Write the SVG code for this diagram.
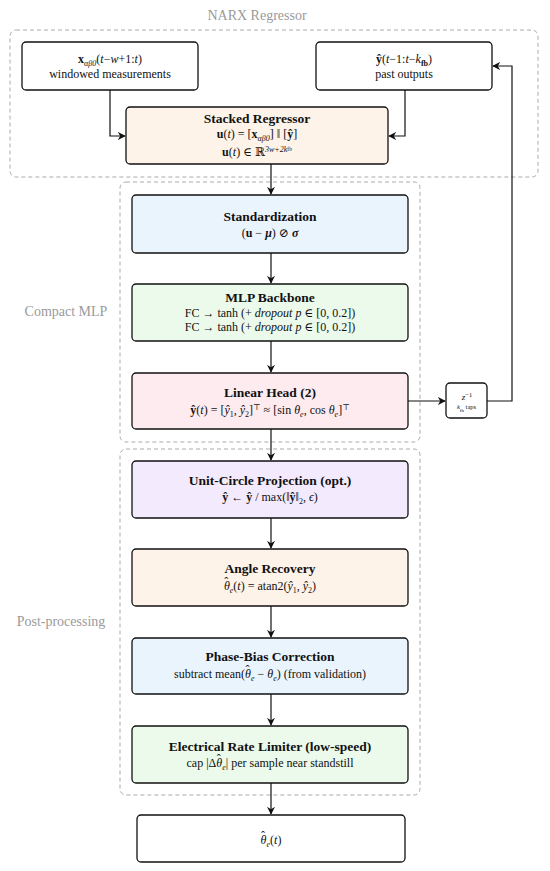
<svg xmlns="http://www.w3.org/2000/svg" width="550" height="871" viewBox="0 0 550 871">
<defs>
<marker id="ah" viewBox="0 0 10 10" refX="9" refY="5" markerWidth="8" markerHeight="8" markerUnits="userSpaceOnUse" orient="auto">
<path d="M0,0 L10,5 L0,10 L3,5 Z" fill="#111"/>
</marker>
<style>
text{font-family:"Liberation Serif","DejaVu Serif",serif;fill:#111;text-anchor:middle}
.t{font-size:13.5px;font-weight:bold}
.s{font-size:12px}
.g{font-size:14px;fill:#9a9a9a}
.grp{fill:none;stroke:#aaa;stroke-width:1;stroke-dasharray:4 3}
.n{stroke:#111;stroke-width:1.3}
.c{fill:none;stroke:#111;stroke-width:1.2}
.i{font-style:italic}
.b{font-weight:bold}
.sub{font-size:8px;baseline-shift:-2.5px}
.sup{font-size:8px;baseline-shift:super}
</style>
</defs>
<g id="groups">
<rect class="grp" x="10" y="30" width="528" height="147" rx="6"/>
<text class="g" x="257" y="20">NARX Regressor</text>
<rect class="grp" x="120" y="182" width="300" height="260" rx="6"/>
<text class="g" x="66" y="316">Compact MLP</text>
<rect class="grp" x="120" y="449" width="300" height="346" rx="6"/>
<text class="g" x="61" y="626">Post-processing</text>
</g>
<g id="connectors">
<path class="c" d="M110,90 V136 H125" marker-end="url(#ah)"/>
<path class="c" d="M405,90 V136 H389" marker-end="url(#ah)"/>
<path class="c" d="M271,164 V194" marker-end="url(#ah)"/>
<path class="c" d="M271,253 V283" marker-end="url(#ah)"/>
<path class="c" d="M271,341 V372" marker-end="url(#ah)"/>
<path class="c" d="M408,401 H445" marker-end="url(#ah)"/>
<path class="c" d="M487,401 H512 V66 H493" marker-end="url(#ah)"/>
<path class="c" d="M271,429 V460" marker-end="url(#ah)"/>
<path class="c" d="M271,518 V548" marker-end="url(#ah)"/>
<path class="c" d="M271,606 V637" marker-end="url(#ah)"/>
<path class="c" d="M271,694 V725" marker-end="url(#ah)"/>
<path class="c" d="M271,783 V814" marker-end="url(#ah)"/>
</g>
<g id="windowed">
<rect class="n" x="22" y="42" width="176" height="48" rx="4" fill="#fff"/>
<text class="s" x="110" y="63"><tspan class="b">x</tspan><tspan class="sub i">αβ0</tspan>(<tspan class="i">t</tspan>−<tspan class="i">w</tspan>+1:<tspan class="i">t</tspan>)</text>
<text class="s" x="110" y="78">windowed measurements</text>
</g>
<g id="past">
<rect class="n" x="316" y="42" width="176" height="48" rx="4" fill="#fff"/>
<text class="s" x="404" y="63"><tspan class="b">ŷ</tspan>(<tspan class="i">t</tspan>−1:<tspan class="i">t</tspan>−<tspan class="i">k</tspan><tspan class="sub b">fb</tspan>)</text>
<text class="s" x="404" y="78">past outputs</text>
</g>
<g id="stacked">
<rect class="n" x="126" y="107" width="262" height="57" rx="4" fill="#fdf3e8"/>
<text class="t" x="257" y="123">Stacked Regressor</text>
<text class="s" x="257" y="138"><tspan class="b">u</tspan>(<tspan class="i">t</tspan>) = [<tspan class="b">x</tspan><tspan class="sub i">αβ0</tspan>] ‖ [<tspan class="b">ŷ</tspan>]</text>
<text class="s" x="257" y="156"><tspan class="b">u</tspan>(<tspan class="i">t</tspan>) ∈ ℝ<tspan class="sup i">3w+2k</tspan><tspan font-size="5.5px" baseline-shift="5px">fb</tspan></text>
</g>
<g id="standardization">
<rect class="n" x="132" y="195" width="276" height="58" rx="4" fill="#eaf4fc"/>
<text class="t" x="270" y="221">Standardization</text>
<text class="s" x="270" y="237">(<tspan class="b">u</tspan> − <tspan class="b i">μ</tspan>) ⊘ <tspan class="b i">σ</tspan></text>
</g>
<g id="mlp">
<rect class="n" x="132" y="284" width="276" height="57" rx="4" fill="#ebfaeb"/>
<text class="t" x="270" y="302">MLP Backbone</text>
<text class="s" x="270" y="317">FC → tanh  (+ <tspan class="i">dropout p</tspan> ∈ [0, 0.2])</text>
<text class="s" x="270" y="331">FC → tanh  (+ <tspan class="i">dropout p</tspan> ∈ [0, 0.2])</text>
</g>
<g id="linear">
<rect class="n" x="132" y="373" width="276" height="56" rx="4" fill="#fdebf0"/>
<text class="t" x="270" y="397">Linear Head (2)</text>
<text class="s" x="270" y="414"><tspan class="b">ŷ</tspan>(<tspan class="i">t</tspan>) = [<tspan class="i">ŷ</tspan><tspan class="sub">1</tspan>, <tspan class="i">ŷ</tspan><tspan class="sub">2</tspan>]<tspan class="sup">⊤</tspan> ≈ [sin <tspan class="i">θ</tspan><tspan class="sub i">e</tspan>, cos <tspan class="i">θ</tspan><tspan class="sub i">e</tspan>]<tspan class="sup">⊤</tspan></text>
</g>
<g id="delay">
<rect class="n" x="446" y="383" width="41" height="35" rx="4" fill="#fff"/>
<text x="467" y="400" style="font-size:9px"><tspan class="i">z</tspan><tspan font-size="6.5px" baseline-shift="super">−1</tspan></text>
<text x="466.5" y="409" style="font-size:6.5px"><tspan class="i">k</tspan><tspan font-size="5px" baseline-shift="sub">fb</tspan> taps</text>
</g>
<g id="unitcircle">
<rect class="n" x="132" y="461" width="276" height="57" rx="4" fill="#f3ebfd"/>
<text class="t" x="270" y="485">Unit-Circle Projection (opt.)</text>
<text class="s" x="270" y="501"><tspan class="b">ŷ</tspan> ← <tspan class="b">ŷ</tspan> / max(‖<tspan class="b">ŷ</tspan>‖<tspan class="sub">2</tspan>, <tspan class="i">ϵ</tspan>)</text>
</g>
<g id="angle">
<rect class="n" x="132" y="549" width="276" height="57" rx="4" fill="#fdf3e8"/>
<text class="t" x="270" y="573">Angle Recovery</text>
<text class="s" x="270" y="590"><tspan class="i">θ</tspan><tspan dx="-5.5" dy="-4">ˆ</tspan><tspan dx="1.5" dy="4" class="sub i">e</tspan>(<tspan class="i">t</tspan>) = atan2(<tspan class="i">ŷ</tspan><tspan class="sub">1</tspan>, <tspan class="i">ŷ</tspan><tspan class="sub">2</tspan>)</text>
</g>
<g id="phasebias">
<rect class="n" x="132" y="638" width="276" height="56" rx="4" fill="#eaf4fc"/>
<text class="t" x="270" y="661">Phase-Bias Correction</text>
<text class="s" x="270" y="678">subtract mean(<tspan class="i">θ</tspan><tspan dx="-5.5" dy="-4">ˆ</tspan><tspan dx="1.5" dy="4" class="sub i">e</tspan> − <tspan class="i">θ</tspan><tspan class="sub i">e</tspan>) (from validation)</text>
</g>
<g id="ratelimiter">
<rect class="n" x="132" y="726" width="276" height="57" rx="4" fill="#ebfaeb"/>
<text class="t" x="270" y="751">Electrical Rate Limiter (low-speed)</text>
<text class="s" x="270" y="767">cap |Δ<tspan class="i">θ</tspan><tspan dx="-5.5" dy="-4">ˆ</tspan><tspan dx="1.5" dy="4" class="sub i">e</tspan>| per sample near standstill</text>
</g>
<g id="output">
<rect class="n" x="137" y="815" width="268" height="47" rx="4" fill="#fff"/>
<text class="s" x="271" y="844"><tspan class="i">θ</tspan><tspan dx="-5.5" dy="-4">ˆ</tspan><tspan dx="1.5" dy="4" class="sub i">e</tspan>(<tspan class="i">t</tspan>)</text>
</g>
</svg>
